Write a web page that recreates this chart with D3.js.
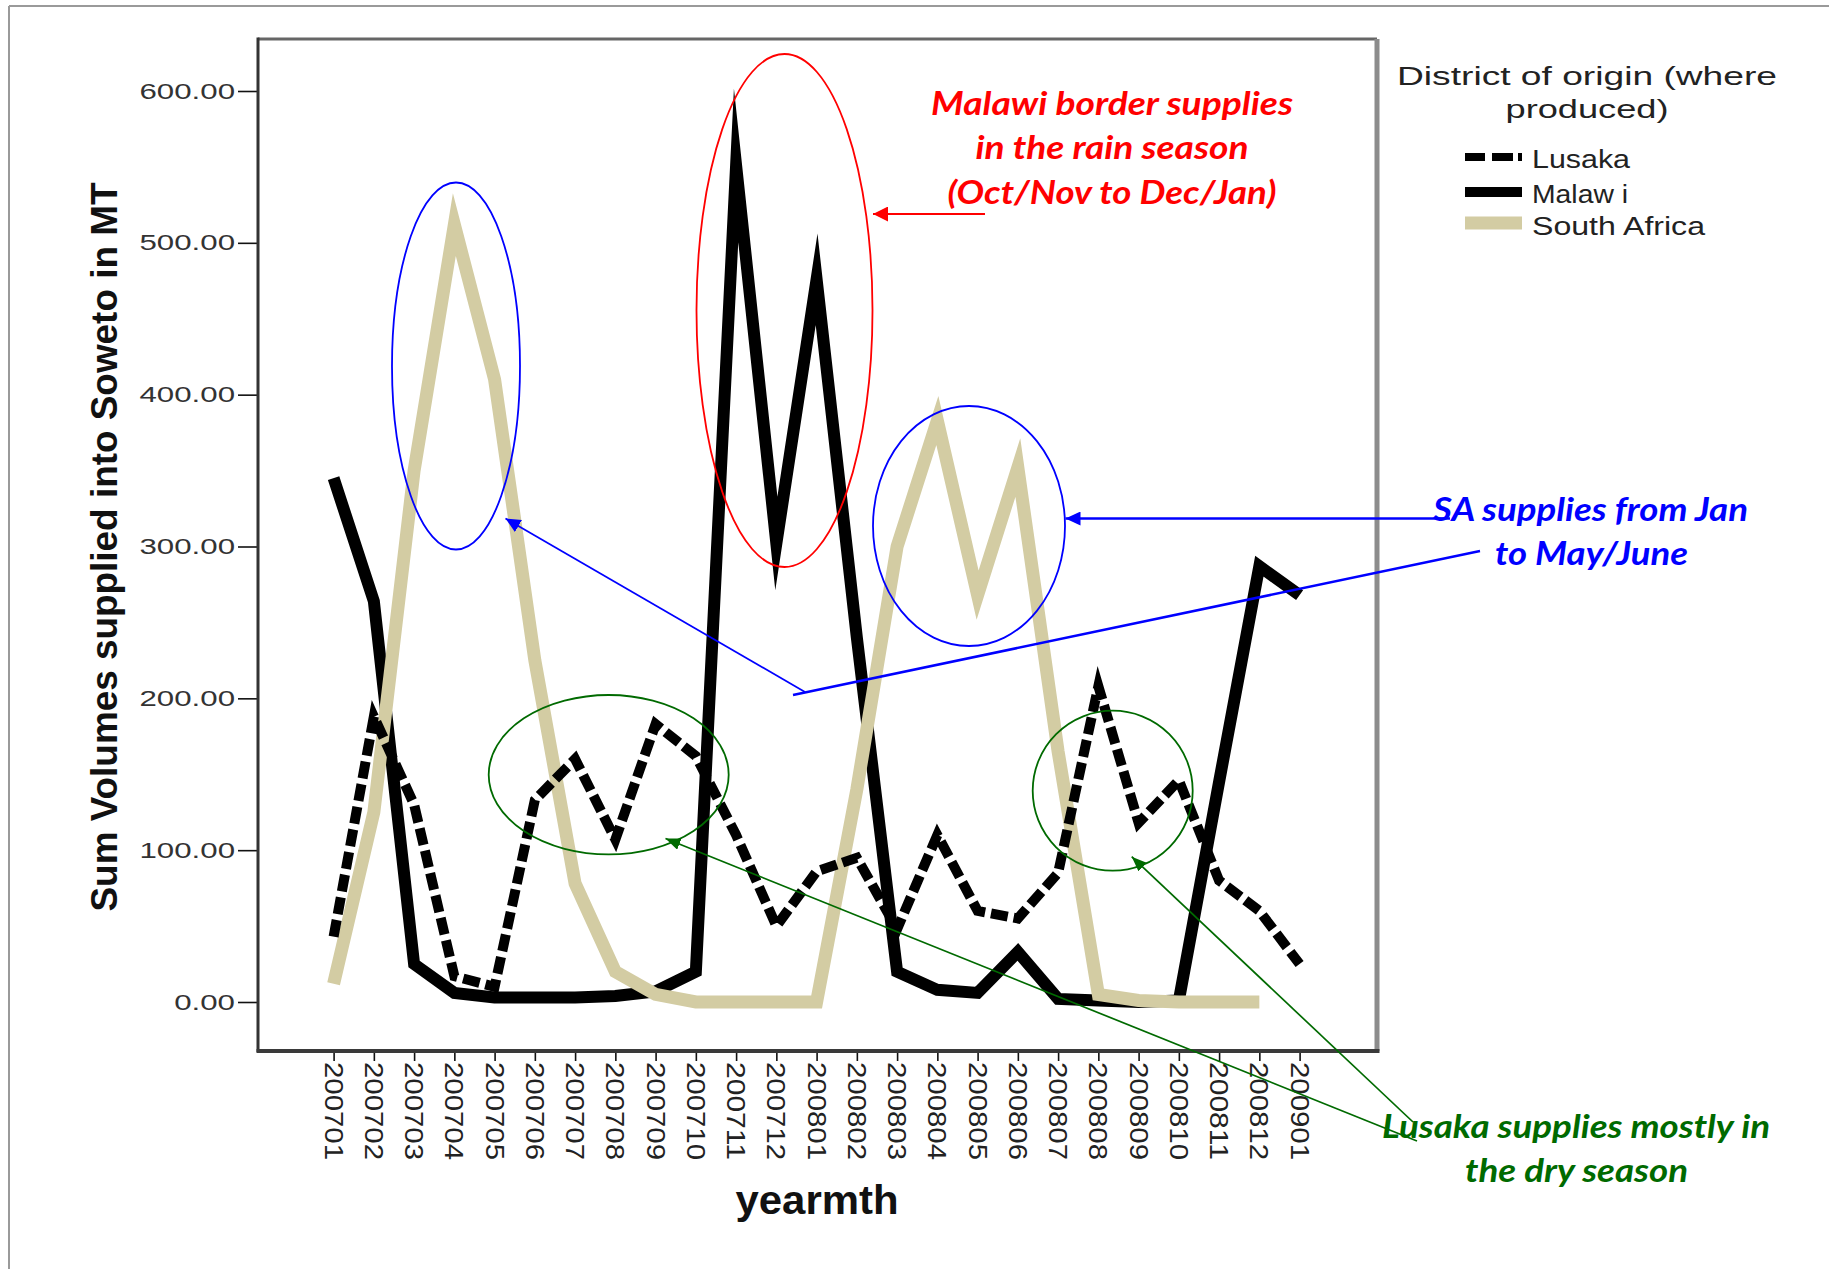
<!DOCTYPE html>
<html><head><meta charset="utf-8">
<script src="https://cdn.jsdelivr.net/npm/d3@7"></script>
<style>body{margin:0;background:#fff;} svg{display:block;}</style>
</head><body>
<svg id="c" width="1829" height="1269"></svg>
<script>
// ---------------- DATA ----------------
const categories = ["200701","200702","200703","200704","200705","200706","200707","200708","200709","200710","200711","200712",
  "200801","200802","200803","200804","200805","200806","200807","200808","200809","200810","200811","200812","200901"];
const lusaka      = [43, 188, 130, 17, 10, 133, 160, 107, 183, 162, 110, 50, 86, 95, 48, 110, 60, 55, 85, 208, 118, 146, 80, 60, 25];
const malawi      = [345, 264, 25, 6, 3, 3, 3, 4, 7, 20, 551, 302, 476, 240, 20, 8, 6, 33, 2, 1, 0, 1, 145, 287, 268];
const southAfrica = [12, 125, 350, 512, 410, 225, 78, 20, 5, 0, 0, 0, 0, 140, 300, 383, 268, 352, 165, 5, 1, 0, 0, 0, null];
const yTicks = [0, 100, 200, 300, 400, 500, 600];
const seriesNames = ["Lusaka", "Malaw i", "South Africa"];

// ---------------- SETUP ----------------
const svg = d3.select("#c");
const SA_COLOR = "#d3cca3";
const x = d3.scalePoint().domain(categories).range([333.6, 1299.6]);
const y = d3.scaleLinear().domain([0, 600]).range([1002, 91]);
const frame = {left: 258, right: 1377, top: 39, bottom: 1051};

function stretch(sel, factor) {
  sel.each(function() {
    const len = this.getComputedTextLength();
    d3.select(this).attr("textLength", len * factor).attr("lengthAdjust", "spacingAndGlyphs");
  });
}

// outer picture border
svg.append("line").attr("x1", 9).attr("x2", 1829).attr("y1", 6).attr("y2", 6).attr("stroke", "#9a9a9a").attr("stroke-width", 2);
svg.append("line").attr("x1", 9).attr("x2", 9).attr("y1", 6).attr("y2", 1269).attr("stroke", "#9a9a9a").attr("stroke-width", 2);

// ---------------- SERIES ----------------
const line = d3.line().defined(d => d.v != null).x(d => x(d.c)).y(d => y(d.v));
const series = vals => categories.map((c, i) => ({c, v: vals[i]}));

const g = svg.append("g");
g.append("path").datum(series(malawi)).attr("d", line)
  .attr("fill", "none").attr("stroke", "#000").attr("stroke-width", 12)
  .attr("stroke-linejoin", "miter").attr("stroke-miterlimit", 20);
g.append("path").datum(series(southAfrica)).attr("d", line)
  .attr("fill", "none").attr("stroke", SA_COLOR).attr("stroke-width", 13)
  .attr("stroke-linejoin", "miter").attr("stroke-miterlimit", 20);
g.append("path").datum(series(lusaka)).attr("d", line)
  .attr("fill", "none").attr("stroke", "#000").attr("stroke-width", 10)
  .attr("stroke-dasharray", "17,6")
  .attr("stroke-linejoin", "miter").attr("stroke-miterlimit", 10);

// ---------------- FRAME & AXES ----------------
svg.append("line").attr("x1", frame.left).attr("x2", frame.right).attr("y1", frame.top).attr("y2", frame.top)
  .attr("stroke", "#666").attr("stroke-width", 3);
svg.append("line").attr("x1", frame.right).attr("x2", frame.right).attr("y1", frame.top).attr("y2", frame.bottom)
  .attr("stroke", "#8c8c8c").attr("stroke-width", 5);

const yAxis = svg.append("g").attr("transform", `translate(${frame.left},0)`)
  .call(d3.axisLeft(y).tickValues(yTicks).tickFormat(d3.format(".2f")).tickSize(20).tickSizeOuter(0));
yAxis.select(".domain").remove();
yAxis.selectAll(".tick line").attr("stroke", "#111").attr("stroke-width", 1.6);
yAxis.selectAll(".tick text").attr("x", -23).attr("fill", "#333")
  .style("font-family", "'Liberation Sans', Arial, sans-serif").style("font-size", "22px");
stretch(yAxis.selectAll(".tick text"), 1.42);

const xAxis = svg.append("g").attr("transform", `translate(0,${frame.bottom})`)
  .call(d3.axisBottom(x).tickSize(10).tickSizeOuter(0));
xAxis.select(".domain").remove();
xAxis.selectAll(".tick line").attr("stroke", "#111").attr("stroke-width", 1.6);
xAxis.selectAll(".tick text")
  .attr("x", 0).attr("y", 0).attr("dy", "0.36em")
  .attr("transform", "translate(0,11) rotate(90)")
  .attr("text-anchor", "start").attr("fill", "#222")
  .style("font-family", "'Liberation Sans', Arial, sans-serif").style("font-size", "26px")
  .attr("textLength", 98).attr("lengthAdjust", "spacingAndGlyphs");

svg.append("line").attr("x1", frame.left).attr("x2", frame.left).attr("y1", frame.top - 1.5).attr("y2", frame.bottom + 1)
  .attr("stroke", "#333").attr("stroke-width", 3);
svg.append("line").attr("x1", frame.left - 1.5).attr("x2", frame.right + 2.5).attr("y1", frame.bottom).attr("y2", frame.bottom)
  .attr("stroke", "#3a3a3a").attr("stroke-width", 4);

// axis titles
svg.append("text").attr("transform", "translate(117,547) rotate(-90)")
  .attr("text-anchor", "middle").attr("fill", "#111")
  .style("font-family", "'Liberation Sans', Arial, sans-serif").style("font-size", "37px").style("font-weight", "bold")
  .attr("textLength", 729).attr("lengthAdjust", "spacingAndGlyphs")
  .text("Sum Volumes supplied into Soweto in MT");
svg.append("text").attr("x", 817).attr("y", 1214)
  .attr("text-anchor", "middle").attr("fill", "#111")
  .style("font-family", "'Liberation Sans', Arial, sans-serif").style("font-size", "40px").style("font-weight", "bold")
  .attr("textLength", 163).attr("lengthAdjust", "spacingAndGlyphs")
  .text("yearmth");

// ---------------- LEGEND ----------------
const leg = svg.append("g").style("font-family", "'Liberation Sans', Arial, sans-serif");
leg.append("text").attr("x", 1587).attr("y", 85).attr("text-anchor", "middle").attr("fill", "#222")
  .style("font-size", "26.5px").attr("textLength", 380).attr("lengthAdjust", "spacingAndGlyphs")
  .text("District of origin (where");
leg.append("text").attr("x", 1587).attr("y", 118).attr("text-anchor", "middle").attr("fill", "#222")
  .style("font-size", "26.5px").attr("textLength", 163).attr("lengthAdjust", "spacingAndGlyphs")
  .text("produced)");
const legItems = [
  {name: seriesNames[0], y: 157, ty: 168, color: "#000", w: 8, dash: "20,7,21,5,4,100", tl: 98},
  {name: seriesNames[1], y: 192, ty: 203, color: "#000", w: 10, dash: null, tl: 96},
  {name: seriesNames[2], y: 223, ty: 235, color: SA_COLOR, w: 13, dash: null, tl: 173}
];
legItems.forEach(it => {
  leg.append("line").attr("x1", 1465).attr("x2", 1522).attr("y1", it.y).attr("y2", it.y)
    .attr("stroke", it.color).attr("stroke-width", it.w).attr("stroke-dasharray", it.dash);
  leg.append("text").attr("x", 1532).attr("y", it.ty).attr("fill", "#222").style("font-size", "25px")
    .attr("textLength", it.tl).attr("lengthAdjust", "spacingAndGlyphs").text(it.name);
});

// ---------------- ANNOTATIONS ----------------
const defs = svg.append("defs");
function marker(id, color, len, half) {
  defs.append("marker").attr("id", id).attr("markerUnits", "userSpaceOnUse")
    .attr("markerWidth", len).attr("markerHeight", half * 2).attr("refX", len).attr("refY", half)
    .attr("orient", "auto")
    .append("path").attr("d", `M0,0 L${len},${half} L0,${half * 2} Z`).attr("fill", color);
}
const RED = "#ff0000", BLUE = "#0000ff", GREEN = "#006a00";
marker("ar", RED, 15, 7.5);
marker("ab", BLUE, 15, 7);
marker("ag", GREEN, 15, 6);

const ann = svg.append("g").attr("fill", "none");
// red
ann.append("ellipse").attr("cx", 784.5).attr("cy", 310.5).attr("rx", 88).attr("ry", 256.5)
  .attr("stroke", RED).attr("stroke-width", 1.8);
ann.append("line").attr("x1", 985).attr("y1", 214).attr("x2", 873).attr("y2", 214)
  .attr("stroke", RED).attr("stroke-width", 2).attr("marker-end", "url(#ar)");
// blue
ann.append("ellipse").attr("cx", 456).attr("cy", 366).attr("rx", 64).attr("ry", 183.5)
  .attr("stroke", BLUE).attr("stroke-width", 1.8);
ann.append("ellipse").attr("cx", 969).attr("cy", 526).attr("rx", 96).attr("ry", 120)
  .attr("stroke", BLUE).attr("stroke-width", 1.8);
ann.append("line").attr("x1", 805).attr("y1", 692).attr("x2", 505.5).attr("y2", 518.5)
  .attr("stroke", BLUE).attr("stroke-width", 1.7).attr("marker-end", "url(#ab)");
ann.append("line").attr("x1", 793).attr("y1", 695).attr("x2", 1480).attr("y2", 551)
  .attr("stroke", BLUE).attr("stroke-width", 2.6);
ann.append("line").attr("x1", 1450).attr("y1", 518.5).attr("x2", 1065.5).attr("y2", 518.5)
  .attr("stroke", BLUE).attr("stroke-width", 2.6).attr("marker-end", "url(#ab)");
// green
ann.append("ellipse").attr("cx", 608.7).attr("cy", 774.7).attr("rx", 120).attr("ry", 79.7)
  .attr("stroke", GREEN).attr("stroke-width", 1.8);
ann.append("ellipse").attr("cx", 1112.7).attr("cy", 790.7).attr("rx", 80).attr("ry", 80)
  .attr("stroke", GREEN).attr("stroke-width", 1.8);
ann.append("line").attr("x1", 1417).attr("y1", 1141).attr("x2", 665.5).attr("y2", 838.5)
  .attr("stroke", GREEN).attr("stroke-width", 1.7).attr("marker-end", "url(#ag)");
ann.append("line").attr("x1", 1413).attr("y1", 1122).attr("x2", 1131.7).attr("y2", 856.7)
  .attr("stroke", GREEN).attr("stroke-width", 1.7).attr("marker-end", "url(#ag)");

function annText(lines, color) {
  lines.forEach(l => {
    svg.append("text").attr("x", l.cx).attr("y", l.y).attr("text-anchor", "middle").attr("fill", color)
      .style("font-family", "Lato, 'Open Sans', sans-serif").style("font-weight", "bold").style("font-style", "italic")
      .style("font-size", "32px").attr("textLength", l.tl).attr("lengthAdjust", "spacingAndGlyphs").text(l.t);
  });
}
annText([
  {t: "Malawi border supplies", cx: 1112, y: 115, tl: 362},
  {t: "in the rain season", cx: 1112, y: 159, tl: 273},
  {t: "(Oct/Nov to Dec/Jan)", cx: 1112, y: 204, tl: 329}
], RED);
annText([
  {t: "SA supplies from Jan", cx: 1590.5, y: 521, tl: 315},
  {t: "to May/June", cx: 1591.5, y: 565, tl: 193}
], BLUE);
annText([
  {t: "Lusaka supplies mostly in", cx: 1576, y: 1138, tl: 388},
  {t: "the dry season", cx: 1576.5, y: 1182, tl: 223}
], GREEN);
</script>
</body></html>
